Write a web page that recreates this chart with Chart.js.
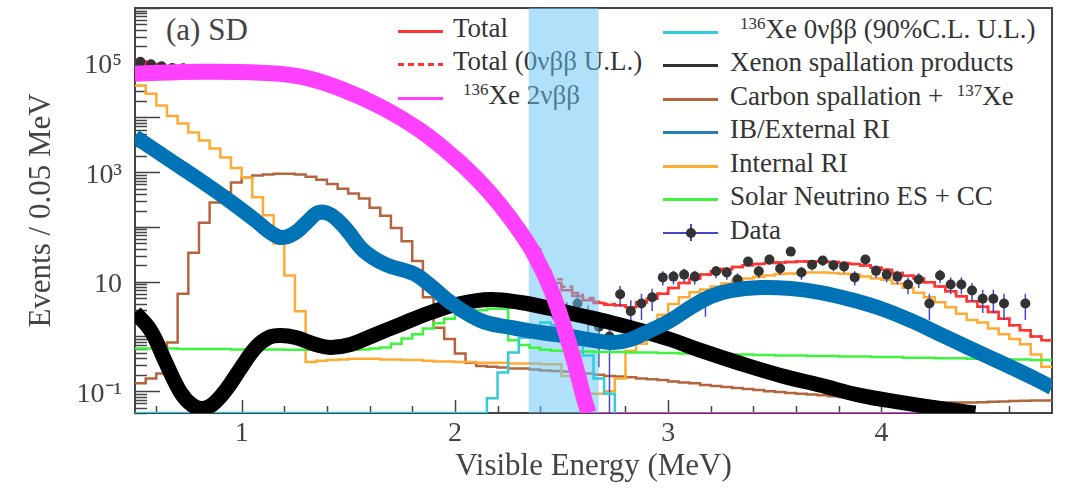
<!DOCTYPE html>
<html>
<head>
<meta charset="utf-8">
<title>(a) SD - visible energy spectrum</title>
<script src="https://cdn.jsdelivr.net/npm/chart.js@4.4.1/dist/chart.umd.min.js"></script>
<style>
  body { margin: 0; background: #fff; }
  #wrap { position: relative; width: 1065px; height: 491px; overflow: hidden;
          font-family: 'Liberation Serif', 'Times New Roman', serif; color: #333; }
  #chart { position: absolute; left: 0; top: 0; }
  .tag { position: absolute; left: 166px; top: 14px; font-size: 31px; line-height: 1; color: #444; }
  .row { position: absolute; height: 34px; display: flex; align-items: center; font-size: 27px; white-space: nowrap; }
  .key { display: inline-block; position: relative; top: 3px; height: 0; flex: none; }
  .row sup { font-size: 17px; vertical-align: 0.55em; line-height: 0; }
  .key i { position: absolute; display: block; }
</style>
</head>
<body>
<div id="wrap">
  <div class="tag">(a) SD</div>

  <!-- legend sits under the canvas so the ROI band tints it like in the original -->
  <div class="row" style="left:398px;top:11px"><span class="key" style="width:45px;margin-right:10px;border-top:3px solid rgb(255,51,51)"></span><span>Total</span></div>
  <div class="row" style="left:398px;top:44px"><span class="key" style="width:45px;margin-right:10px;height:3px;background:repeating-linear-gradient(to right,rgb(255,51,51) 0 6px,transparent 6px 10px)"></span><span>Total (0νββ U.L.)</span></div>
  <div class="row" style="left:398px;top:78px"><span class="key" style="width:45px;margin-right:10px;border-top:3px solid rgb(255,64,255)"></span><span style="margin-left:10px"><sup>136</sup>Xe 2νββ</span></div>

  <div class="row" style="left:663px;top:12px"><span class="key" style="width:55px;margin-right:12px;border-top:3px solid rgb(51,204,221)"></span><span style="margin-left:10px"><sup>136</sup>Xe 0νββ (90%C.L. U.L.)</span></div>
  <div class="row" style="left:663px;top:45px"><span class="key" style="width:55px;margin-right:12px;border-top:3px solid #333"></span><span>Xenon spallation products</span></div>
  <div class="row" style="left:663px;top:79px"><span class="key" style="width:55px;margin-right:12px;border-top:3px solid rgb(181,101,61)"></span><span>Carbon spallation + &nbsp;<sup>137</sup>Xe</span></div>
  <div class="row" style="left:663px;top:112px"><span class="key" style="width:55px;margin-right:12px;border-top:3px solid rgb(40,125,180)"></span><span>IB/External RI</span></div>
  <div class="row" style="left:663px;top:146px"><span class="key" style="width:55px;margin-right:12px;border-top:3px solid rgb(255,170,51)"></span><span>Internal RI</span></div>
  <div class="row" style="left:663px;top:179px"><span class="key" style="width:55px;margin-right:12px;border-top:3px solid rgb(60,245,60)"></span><span>Solar Neutrino ES + CC</span></div>
  <div class="row" style="left:663px;top:213px"><span class="key" style="width:55px;margin-right:12px;height:2px">
      <i style="left:0;right:0;top:0;height:1.5px;background:rgb(70,70,200)"></i>
      <i style="left:27px;top:-8px;width:1.5px;height:17px;background:rgb(70,70,200)"></i>
      <i style="left:23px;top:-4px;width:10px;height:10px;border-radius:50%;background:#333"></i>
    </span><span>Data</span></div>

  <canvas id="chart" width="1065" height="491"></canvas>
</div>

<script>
//============================================= Axes =============================================//
const binWidth = 0.05;
const eMin = 0.5, eMax = 4.8;
const yMin = 0.04, yMax = 1e6;
const roiLow = 2.345, roiHigh = 2.675;

const xTickLabels = [1, 2, 3, 4];
const yTickLabels = [0.1, 10, 1000, 100000];

//============================================= Histograms (0.05 MeV bins from 0.5 MeV) =============================================//
const totalFit = [106000, 93000, 85000, 81000, 79000, 76000, 75000, 74000, 72000, 70000,
    69000, 65000, 62000, 59000, 55000, 50000, 46000, 42000, 36000, 31000,
    26000, 21000, 17000, 13000, 10000, 7700, 5700, 4000, 2800, 1950,
    1320, 870, 560, 345, 212, 127, 70, 38, 14, 9.5,
    7.0, 5.5, 4.6, 4.1, 3.8, 3.7, 3.4, 4.2, 4.9, 6.0,
    7.7, 9.5, 11.3, 13.5, 15.5, 17, 18.5, 20, 21, 22,
    22.5, 23, 23.5, 23.5, 23.5, 23, 22, 21, 19.8, 18,
    16.5, 14.5, 12.8, 11.5, 9.8, 8.2, 6.7, 5.4, 4.4, 3.5,
    2.8, 2.1, 1.6, 1.3, 1.0, 0.85];

const totalUpperLimit = [106000, 93000, 85000, 81000, 79000, 76000, 75000, 74000, 72000, 70000,
    69000, 65000, 62000, 59000, 55000, 50000, 46000, 42000, 36000, 31000,
    26000, 21000, 17000, 13000, 10000, 7700, 5700, 4000, 2800, 1950,
    1320, 870, 560, 345, 212, 128, 71, 39.4, 15.8, 11.1,
    8.1, 6.2, 5.05, 4.3, 3.9, 3.7, 3.4, 4.2, 4.9, 6.0,
    7.7, 9.5, 11.3, 13.5, 15.5, 17, 18.5, 20, 21, 22,
    22.5, 23, 23.5, 23.5, 23.5, 23, 22, 21, 19.8, 18,
    16.5, 14.5, 12.8, 11.5, 9.8, 8.2, 6.7, 5.4, 4.4, 3.5,
    2.8, 2.1, 1.6, 1.3, 1.0, 0.85];

const xe0nbb = [0, 0, 0, 0, 0, 0, 0, 0, 0, 0,
    0, 0, 0, 0, 0, 0, 0, 0, 0, 0,
    0, 0, 0, 0, 0, 0, 0, 0, 0, 0,
    0, 0, 0, 0.074, 0.22, 0.51, 0.95, 1.4, 1.8, 1.6,
    1.05, 0.7, 0.45, 0.17, 0.09, 0, null, null, null, null,
    null, null, null, null, null, null, null, null, null, null,
    null, null, null, null, null, null, null, null, null, null,
    null, null, null, null, null, null, null, null, null, null,
    null, null, null, null, null, null];

const carbonSpall = [0.14, 0.17, 0.21, 0.78, 6.0, 34, 120, 280, 430, 650,
    790, 870, 910, 940, 940, 910, 830, 730, 610, 500,
    410, 330, 225, 160, 96, 55, 24, 5.2, 1.45, 0.9,
    0.49, 0.33, 0.29, 0.28, 0.27, 0.26, 0.26, 0.25, 0.24, 0.235,
    0.23, 0.22, 0.21, 0.20, 0.19, 0.185, 0.18, 0.17, 0.165, 0.16,
    0.15, 0.145, 0.14, 0.13, 0.125, 0.12, 0.115, 0.11, 0.105, 0.10,
    0.097, 0.093, 0.09, 0.087, 0.084, 0.081, 0.078, 0.075, 0.073, 0.071,
    0.069, 0.067, 0.065, 0.064, 0.063, 0.062, 0.062, 0.062, 0.062, 0.063,
    0.064, 0.065, 0.066, 0.067, 0.068, 0.068];

const internalRI = [38000, 27000, 16600, 10700, 7800, 5300, 3800, 2700, 1860, 1200,
    790, 350, 163, 50, 13, 2.9, 0.34, 0.36, 0.37, 0.38,
    0.39, 0.39, 0.39, 0.38, 0.38, 0.37, 0.37, 0.36, 0.35, 0.35,
    0.34, 0.34, 0.33, 0.33, 0.33, 0.32, 0.32, 0.32, 0.31, 0.31,
    0.19, 0.19, 0.09, 0.09, 0.10, 0.17, 0.55, 0.74, 1.6, 2.5,
    3.9, 5.2, 6.4, 7.2, 8.2, 9.3, 10.5, 11.5, 12.3, 13,
    13.8, 14.2, 14.5, 14.7, 14.7, 14.5, 14, 13.5, 12.5, 11.5,
    10.9, 9.3, 7.8, 6.3, 5.2, 4.2, 3.4, 2.6, 2.0, 1.8,
    1.4, 1.1, 0.9, 0.72, 0.47, 0.28];

const solarNu = [0.60, 0.60, 0.60, 0.60, 0.59, 0.59, 0.59, 0.59, 0.59, 0.58,
    0.58, 0.58, 0.58, 0.58, 0.57, 0.57, 0.57, 0.57, 0.57, 0.57,
    0.57, 0.58, 0.60, 0.63, 0.74, 0.92, 1.1, 1.4, 1.75, 2.1,
    2.5, 2.8, 3.0, 3.2, 3.2, 0.85, 0.70, 0.62, 0.57, 0.55,
    0.54, 0.53, 0.53, 0.52, 0.52, 0.52, 0.51, 0.51, 0.51, 0.50,
    0.50, 0.49, 0.49, 0.49, 0.48, 0.48, 0.47, 0.47, 0.46, 0.46,
    0.45, 0.45, 0.45, 0.44, 0.44, 0.44, 0.43, 0.43, 0.43, 0.42,
    0.42, 0.42, 0.41, 0.41, 0.41, 0.40, 0.40, 0.40, 0.39, 0.39,
    0.39, 0.38, 0.38, 0.38, 0.37, 0.37];

const dataCounts = [104000, 94000, 86000, 80000, 79000, 77000, 74000, 74000, 73000, 70000,
    68000, 65000, 63000, 59000, 55000, 50000, 46000, 42000, 36000, 31000,
    26000, 21000, 17000, 13000, 10000, 7600, 5700, 4000, 2800, 1900,
    1300, 880, 550, 350, 210, 125, 72, 34, 15, 2.4,
    2.6, 4.0, 2.2, 1.5, 1.0, 5.9, 2.9, 4.0, 5.2, 12,
    12.4, 13.5, 12.4, 4.4, 15.5, 14.7, 11, 23.5, 15.5, 25.5,
    17.5, 35.5, 14.7, 20.5, 24.5, 20, 19, 12, 25.5, 15.8,
    13.5, 12.4, 8.9, 11, 4.0, 13, 8.9, 8.9, 6.9, 4.9,
    4.9, 4.0, null, 4.0, null, null];

//============================================= Smooth components =============================================//
const xe2nbbE = [0.5, 0.808, 1.089, 1.277, 1.464, 1.652, 1.839, 2.003, 2.12, 2.214,
    2.308, 2.378, 2.449, 2.505, 2.561, 2.608, 2.627];
const xe2nbb = [63000, 68500, 65800, 55600, 33600, 15700, 5740, 1770, 646, 246,
    79, 28.8, 7.5, 1.8, 0.336, 0.068, 0.04];
const xe2nbbTailE = [2.627, 4.4];
const xe2nbbTail = [0, 0];

const externalE = [0.5, 0.667, 0.808, 0.948, 1.066, 1.136, 1.192, 1.253, 1.314, 1.361,
    1.417, 1.488, 1.572, 1.675, 1.806, 1.886, 1.98, 2.12, 2.261, 2.402,
    2.542, 2.683, 2.753, 2.824, 2.917, 3.011, 3.105, 3.199, 3.293, 3.434,
    3.575, 3.715, 3.856, 3.997, 4.137, 4.277, 4.418, 4.559, 4.699, 4.8];
const externalRI = [4470, 1630, 703, 291, 131, 79, 64, 79, 131, 183,
    168, 93.5, 37, 20.6, 14.1, 8.5, 4.17, 1.96, 1.46, 1.18,
    1.0, 0.81, 0.78, 0.88, 1.29, 1.96, 3.38, 5.37, 6.9, 7.83,
    7.5, 6.35, 4.73, 3.24, 1.96, 1.09, 0.60, 0.336, 0.186, 0.117];

const xeSpallE = [0.5, 0.573, 0.644, 0.714, 0.77, 0.817, 0.864, 0.925, 0.995, 1.066,
    1.127, 1.183, 1.253, 1.347, 1.417, 1.511, 1.628, 1.745, 1.886, 2.027,
    2.167, 2.308, 2.449, 2.589, 2.73, 2.871, 3.011, 3.152, 3.339, 3.527,
    3.715, 3.902, 4.09, 4.277, 4.44];
const xeSpall = [2.74, 1.29, 0.336, 0.095, 0.055, 0.0485, 0.0574, 0.1035, 0.26, 0.63,
    0.96, 1.04, 0.96, 0.714, 0.63, 0.714, 1.09, 1.66, 2.74, 4.0,
    4.73, 4.17, 3.24, 2.42, 1.80, 1.29, 0.88, 0.556, 0.321, 0.194,
    0.128, 0.0838, 0.0625, 0.0485, 0.04];

//============================================= Helpers =============================================//
const serif = "'Liberation Serif', 'Times New Roman', serif";
const axisColor = '#444';

function binsToSteps(values) {
    const pts = values.map((v, i) => ({
        x: eMin + i * binWidth,
        y: v === null ? null : (v > 0 ? v : yMin)
    }));
    pts.push({ x: eMax, y: pts[pts.length - 1].y });
    return pts;
}

function histLine(values, color, extra) {
    return Object.assign({
        data: binsToSteps(values),
        borderColor: color,
        borderWidth: 2.5,
        stepped: true,
        pointRadius: 0,
        fill: false
    }, extra || {});
}

function smoothLine(es, vs, color, width) {
    return {
        data: es.map((e, i) => ({ x: e, y: vs[i] > 0 ? vs[i] : yMin })),
        borderColor: color,
        borderWidth: width,
        tension: 0.4,
        borderCapStyle: 'butt',
        borderJoinStyle: 'round',
        pointRadius: 0,
        fill: false
    };
}

const dataPoints = dataCounts.map((v, i) => ({ x: eMin + (i + 0.5) * binWidth, y: v }));
const errorSegments = [];
dataCounts.forEach((v, i) => {
    if (v === null) return;
    const e = eMin + (i + 0.5) * binWidth;
    const s = Math.sqrt(v);
    errorSegments.push({ x: e, y: Math.max(v - s, yMin) }, { x: e, y: v + s }, { x: e, y: null });
});

const superDigits = { '-': '\u207B', '0': '\u2070', '1': '\u00B9', '2': '\u00B2', '3': '\u00B3',
    '4': '\u2074', '5': '\u2075', '6': '\u2076', '7': '\u2077', '8': '\u2078', '9': '\u2079' };
function powerLabel(v) {
    const p = Math.round(Math.log10(v));
    if (p === 1) return '10';
    return '10' + String(p).split('').map(c => superDigits[c]).join('');
}

//============================================= Frame + inward ticks (ROOT style) =============================================//
const frameTicks = {
    id: 'frameTicks',
    beforeDatasetsDraw(chart) {
        const { ctx, chartArea: a, scales: { x, y } } = chart;
        ctx.save();
        ctx.strokeStyle = axisColor;
        ctx.lineWidth = 2;
        ctx.strokeRect(a.left, a.top, a.right - a.left, a.bottom - a.top);

        ctx.lineWidth = 1.5;
        ctx.beginPath();
        for (let i = 3; i * 0.2 < eMax; i++) {
            const px = Math.round(x.getPixelForValue(i * 0.2)) + 0.5;
            const len = i % 5 === 0 ? 13 : 7;
            ctx.moveTo(px, a.bottom);
            ctx.lineTo(px, a.bottom - len);
        }
        for (let p = -2; p <= 6; p++) {
            for (let m = 1; m <= 9; m++) {
                const v = m * Math.pow(10, p);
                if (v < yMin || v > yMax) continue;
                const py = Math.round(y.getPixelForValue(v)) + 0.5;
                ctx.moveTo(a.left, py);
                ctx.lineTo(a.left + (m === 1 ? 25 : 12), py);
            }
        }
        ctx.stroke();
        ctx.restore();
    }
};

//============================================= Chart =============================================//
const red = 'rgb(255,51,51)';

new Chart(document.getElementById('chart'), {
    type: 'line',
    data: {
        datasets: [
            smoothLine(xe2nbbE, xe2nbb, 'rgb(255,64,255)', 16),
            smoothLine(externalE, externalRI, 'rgb(0,115,183)', 15),
            smoothLine(xeSpallE, xeSpall, '#000', 15),
            histLine(xe0nbb, 'rgb(51,204,221)'),
            histLine(solarNu, 'rgb(60,245,60)'),
            {
                data: [{ x: roiLow, y: yMax }, { x: roiHigh, y: yMax }],
                fill: 'start',
                backgroundColor: 'rgba(100,195,245,0.5)',
                borderWidth: 0,
                pointRadius: 0
            },
            {
                data: dataPoints,
                showLine: false,
                pointRadius: 5,
                pointBackgroundColor: '#333',
                pointBorderWidth: 0
            },
            {
                data: errorSegments,
                borderColor: 'rgb(70,70,200)',
                borderWidth: 1.5,
                pointRadius: 0,
                spanGaps: false
            },
            histLine(totalUpperLimit, red, { borderDash: [6, 4] }),
            histLine(totalFit, red),
            histLine(internalRI, 'rgb(255,170,51)'),
            histLine(carbonSpall, 'rgb(181,101,61)'),
            smoothLine(xe2nbbTailE, xe2nbbTail, 'rgb(230,60,230)', 2)
        ]
    },
    options: {
        responsive: false,
        animation: false,
        devicePixelRatio: 1,
        events: [],
        layout: { padding: { left: 0, top: 8, right: 13, bottom: 0 } },
        plugins: {
            legend: { display: false },
            tooltip: { enabled: false }
        },
        scales: {
            x: {
                type: 'linear',
                min: eMin,
                max: eMax,
                grid: { display: false, drawTicks: false },
                border: { display: false },
                ticks: {
                    font: { family: serif, size: 28 },
                    color: axisColor,
                    padding: 4,
                    autoSkip: false,
                    maxRotation: 0,
                    callback: v => String(v)
                },
                afterBuildTicks: s => { s.ticks = xTickLabels.map(v => ({ value: v })); },
                afterFit: s => { s.height = 78; s.paddingLeft = 0; s.paddingRight = 0; },
                title: {
                    display: true,
                    text: 'Visible Energy (MeV)',
                    font: { family: serif, size: 31 },
                    color: axisColor,
                    padding: { top: 0, bottom: 6 }
                }
            },
            y: {
                type: 'logarithmic',
                min: yMin,
                max: yMax,
                grid: { display: false, drawTicks: false },
                border: { display: false },
                ticks: {
                    font: { family: serif, size: 28 },
                    color: axisColor,
                    padding: 13,
                    labelOffset: 3,
                    autoSkip: false,
                    callback: v => powerLabel(v)
                },
                afterBuildTicks: s => { s.ticks = yTickLabels.map(v => ({ value: v })); },
                afterFit: s => { s.width = 135; s.paddingTop = 0; s.paddingBottom = 0; },
                title: {
                    display: true,
                    text: 'Events / 0.05 MeV',
                    font: { family: serif, size: 31 },
                    color: axisColor,
                    padding: { top: 23, bottom: 0 }
                }
            }
        }
    },
    plugins: [frameTicks]
});
</script>
</body>
</html>
